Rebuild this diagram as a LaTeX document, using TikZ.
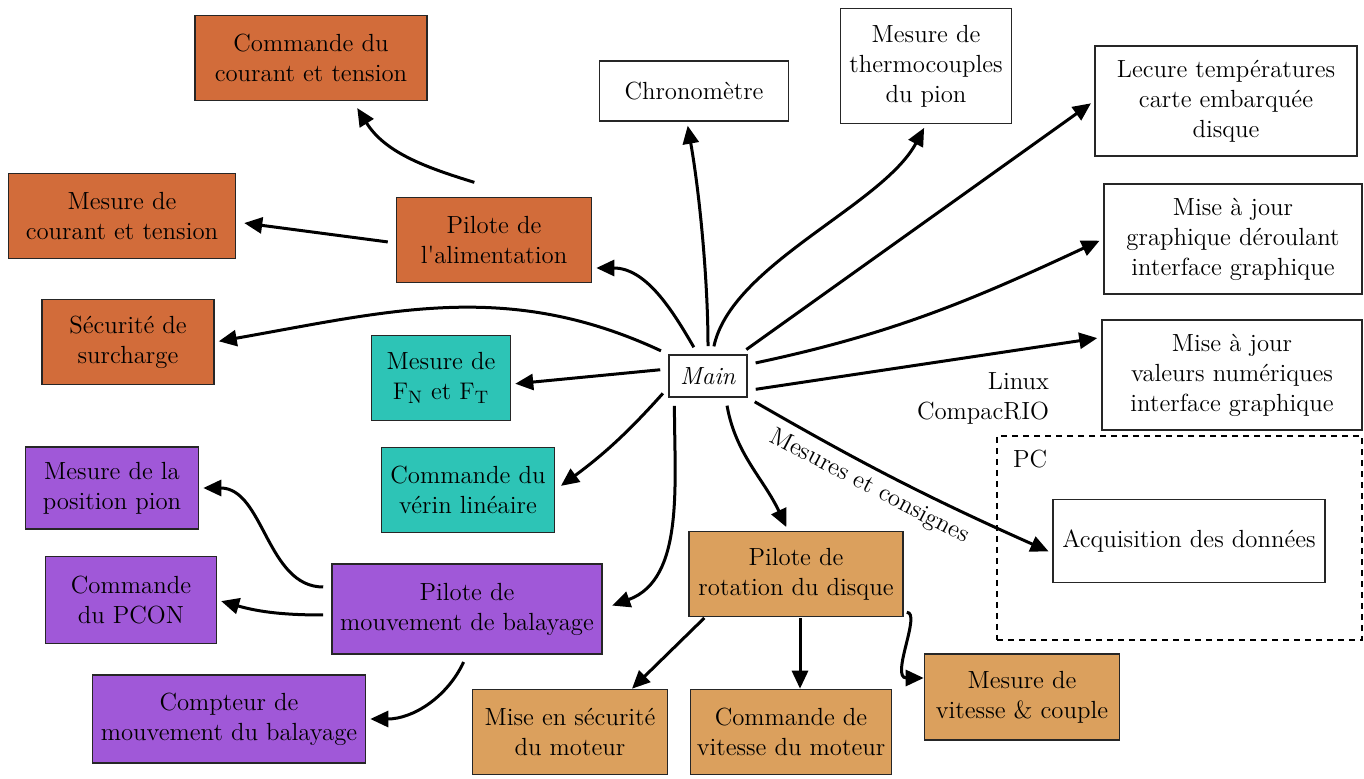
\documentclass[tikz,border=0pt]{standalone}
\usepackage{amsmath}
\usepackage{tikz}
\usetikzlibrary{arrows.meta}
\definecolor{alim}{RGB}{210,108,58}
\definecolor{force}{RGB}{45,196,182}
\definecolor{balay}{RGB}{160,88,216}
\definecolor{rot}{RGB}{219,160,93}

\begin{document}
\begin{tikzpicture}[x=0.5pt,y=-0.5pt,font=\fontsize{12.4}{15}\selectfont,
  box/.style={draw=black!85,line width=0.8pt,align=center,inner sep=2pt},
  link/.style={line width=1.5pt,-{Triangle[length=9pt,width=8pt]},shorten <=4pt,shorten >=2pt}]
  \useasboundingbox (0,0) rectangle (1364,779);
  % alimentation
  \node[box,fill=alim,minimum width=116pt,minimum height=42.5pt] (cmdalim) at (311,58) {Commande du\\courant et tension};
  \node[box,fill=alim,minimum width=113.5pt,minimum height=42.5pt] (mesalim) at (122,216) {Mesure de\\courant et tension};
  \node[box,fill=alim,minimum width=97.5pt,minimum height=42.5pt] (pilalim) at (494,240) {Pilote de\\l\textquotesingle alimentation};
  \node[box,fill=alim,minimum width=86pt,minimum height=42.5pt] (secu) at (128,342) {Sécurité de\\surcharge};
  % efforts et verin
  \node[box,fill=force,minimum width=69.5pt,minimum height=42.5pt] (mesF) at (441,378) {Mesure de\\$\mathrm{F_N}$ et $\mathrm{F_T}$};
  \node[box,fill=force,minimum width=86.5pt,minimum height=42.5pt] (verin) at (468,490) {Commande du\\vérin linéaire};
  \node[box,minimum width=39pt,minimum height=21pt] (main) at (708,376) {\textit{Main}};
  % taches sans pilote
  \node[box,minimum width=94.5pt,minimum height=30pt] (chrono) at (694,91) {Chronomètre};
  \node[box,minimum width=85.5pt,minimum height=57.5pt] (thermo) at (926,66) {Mesure de\\thermocouples\\du pion};
  \node[box,minimum width=131pt,minimum height=55pt] (temp) at (1226,101) {Lecure températures\\carte embarquée\\disque};
  \node[box,minimum width=129pt,minimum height=55pt] (graph) at (1233,239) {Mise à jour\\graphique déroulant\\interface graphique};
  \node[box,minimum width=130pt,minimum height=55pt] (valeurs) at (1232,375) {Mise à jour\\valeurs numériques\\interface graphique};
  \node[align=right,anchor=east] (crio) at (1056,398) {Linux\\CompacRIO};
  % PC
  \node[draw,line width=0.8pt,dash pattern=on 3pt off 2.5pt,minimum width=182.5pt,minimum height=102pt] (pc) at (1179.5,538) {};
  \node[anchor=north west] (pclabel) at (1006,443) {PC};
  \node[box,minimum width=136pt,minimum height=41.5pt] (acq) at (1189,541) {Acquisition des données};
  % rotation du disque
  \node[box,fill=rot,minimum width=107pt,minimum height=42.5pt] (pilrot) at (796,574) {Pilote de\\rotation du disque};
  \node[box,fill=rot,minimum width=97.5pt,minimum height=42.5pt] (secmot) at (570,732) {Mise en sécurité\\du moteur};
  \node[box,fill=rot,minimum width=100.5pt,minimum height=42.5pt] (vitmot) at (791,732) {Commande de\\vitesse du moteur};
  \node[box,fill=rot,minimum width=97.5pt,minimum height=43pt] (mesvit) at (1022,697) {Mesure de\\vitesse \& couple};
  % balayage
  \node[box,fill=balay,minimum width=86.5pt,minimum height=41pt] (pospion) at (112,488) {Mesure de la\\position pion};
  \node[box,fill=balay,minimum width=85.5pt,minimum height=43.5pt] (pcon) at (131,600) {Commande\\du PCON};
  \node[box,fill=balay,minimum width=135pt,minimum height=45pt] (pilbal) at (467,609) {Pilote de\\mouvement de balayage};
  \node[box,fill=balay,minimum width=136.5pt,minimum height=44pt] (compteur) at (229,719) {Compteur de\\mouvement du balayage};

  \draw[link] (main.115) to[out=120,in=0] ([yshift=-14pt]pilalim.east);
  \draw[link] (main.north) to[out=90,in=-80,looseness=0.8] ([xshift=-3.5pt]chrono.south);
  \draw[link] (main.79) to[out=78,in=-118,looseness=0.75] (thermo.south);
  \draw[link] ([xshift=-4pt]main.north east) -- (temp.west);
  \draw[link] (main.16) to[out=12,in=205] (graph.west);
  \draw[link] (main.-20) -- (valeurs.164);
  \draw[link] (main.south east) to[bend right=3] node[sloped,below,pos=0.43] (mesures) {Mesures et consignes} (acq.185);
  \draw[link] (main.-51) to[out=-80,in=115] ([xshift=-4pt]pilrot.north);
  \draw[link,shorten >=5pt] (main.-147) to[out=-90,in=20] (pilbal.east);
  \draw[link,shorten >=3.5pt] (main.-164) to[bend left=6] (verin.east);
  \draw[link] (main.170) -- (mesF.-5);
  \draw[link] (main.north west) to[out=155,in=10] (secu.east);

  \draw[link,shorten >=4pt] ([xshift=-6pt,yshift=6pt]pilalim.north) to[out=163,in=-58] ([xshift=21pt]cmdalim.south);
  \draw[link,shorten >=4pt] ([yshift=-1.5pt]pilalim.west) -- ([yshift=-3pt]mesalim.east);

  \draw[link] ([yshift=11pt]pilbal.west) to[out=180,in=0] (pospion.east);
  \draw[link] ([yshift=-3pt]pilbal.west) to[out=180,in=-16] (pcon.east);
  \draw[link] (pilbal.south) to[out=-115,in=0] (compteur.east);

  \draw[link,shorten <=0.5pt,shorten >=0pt] ([xshift=-45.5pt]pilrot.south) -- ([xshift=31pt]secmot.north);
  \draw[link,shorten <=0.5pt,shorten >=0pt] ([xshift=2pt]pilrot.south) -- ([xshift=4.5pt]vitmot.north);
  \draw[link,shorten <=0.5pt,shorten >=0pt] ([xshift=1pt,yshift=2.5pt]pilrot.south east) .. controls +(16,0) and +(-34,0) .. ([yshift=9.5pt]mesvit.west);
\end{tikzpicture}
\end{document}
